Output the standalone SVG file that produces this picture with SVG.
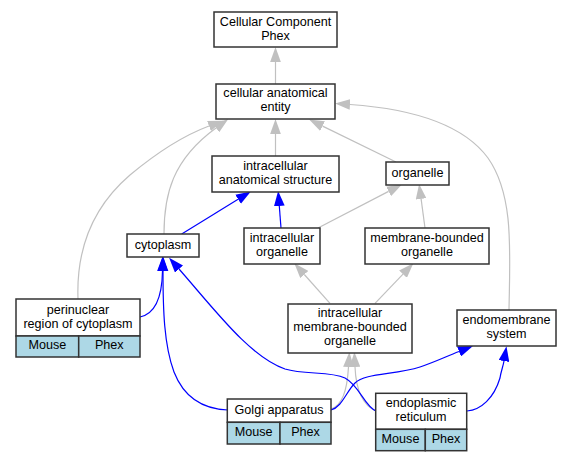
<svg xmlns="http://www.w3.org/2000/svg" width="572" height="461" viewBox="0 0 572 461">
<style>
.box{fill:#fff;stroke:#333;stroke-width:1.5}
.cell{fill:#add8e6;stroke:#333;stroke-width:1.5}
.t{font-family:"Liberation Sans",Arial,sans-serif;font-size:12.6px;fill:#000;text-anchor:middle}
.g{fill:none;stroke:#c0c0c0;stroke-width:1.2}
.b{fill:none;stroke:#0000ff;stroke-width:1.2}
.g{marker-end:url(#ag)}
.b{marker-end:url(#ab)}
</style>
<defs>
<marker id="ag" markerUnits="userSpaceOnUse" markerWidth="15" markerHeight="11" refX="0" refY="5" orient="auto" viewBox="0 0 14 10">
<path d="M0,0 L14,5 L0,10 z" fill="#c0c0c0"/>
</marker>
<marker id="ab" markerUnits="userSpaceOnUse" markerWidth="15" markerHeight="11" refX="0" refY="5" orient="auto" viewBox="0 0 14 10">
<path d="M0,0 L14,5 L0,10 z" fill="#0000ff"/>
</marker>
</defs>
<g id="edges">
<path class="g" d="M275.5,84 L275.5,62"/>
<path class="g" d="M275.5,156 L275.5,134"/>
<path class="g" d="M396,162 L322.6,126.1"/>
<path class="g" d="M164,234 C164,195 172,160 216,128"/>
<path class="g" d="M78,299 C76,245 95,205 130,175 C160,150 185,135 209,126"/>
<path class="g" d="M509,310 C510,250 514,195 488,158 C460,120 400,108 350,104.5"/>
<path class="g" d="M425,228 L421.1,198.9"/>
<path class="g" d="M318,228 L388.6,191.4"/>
<path class="g" d="M330,303.3 L304.3,274.5"/>
<path class="g" d="M375,303.3 L403,274.1"/>
<path class="g" d="M331,409 C342,405 347,392 348.5,367"/>
<path class="g" d="M376,411 C362,405 356,390 355,367"/>
<path class="b" d="M281,228 L279.3,206"/>
<path class="b" d="M181.7,234 L238.1,199.3"/>
<path class="b" d="M140,317 C154,314 162,300 162.5,271"/>
<path class="b" d="M228,410 C200,409 183,395 174,372 C164,345 163,310 163,271"/>
<path class="b" d="M376,411 C364,406 360,386 345,378 C330,371 305,375 285,369 C250,357 215,310 179,269"/>
<path class="b" d="M331,410 C342,407 346,392 355,383 C365,373 395,375 420,367 C435,362 445,357 459,351.5"/>
<path class="b" d="M467,411 C481,410 494,398 500,378 C501,371 503,367 504,361"/>
</g>
<g id="ccp">
<rect class="box" x="214" y="12" width="123" height="35"/>
<text class="t" x="275.5" y="25.5">Cellular Component</text>
<text class="t" x="275.5" y="39.5">Phex</text>
</g>
<g id="cae">
<rect class="box" x="216" y="84" width="119" height="35"/>
<text class="t" x="275.5" y="97">cellular anatomical</text>
<text class="t" x="275.5" y="111">entity</text>
</g>
<g id="ias">
<rect class="box" x="212" y="156" width="127" height="36"/>
<text class="t" x="275.5" y="169.5">intracellular</text>
<text class="t" x="275.5" y="183.5">anatomical structure</text>
</g>
<g id="organelle">
<rect class="box" x="386" y="162" width="63" height="23"/>
<text class="t" x="417.5" y="177">organelle</text>
</g>
<g id="cytoplasm">
<rect class="box" x="127" y="234" width="72" height="23"/>
<text class="t" x="163" y="249">cytoplasm</text>
</g>
<g id="io">
<rect class="box" x="244" y="228" width="76" height="36"/>
<text class="t" x="282" y="241.5">intracellular</text>
<text class="t" x="282" y="255.5">organelle</text>
</g>
<g id="mbo">
<rect class="box" x="365" y="228" width="124" height="36"/>
<text class="t" x="427" y="241.5">membrane-bounded</text>
<text class="t" x="427" y="255.5">organelle</text>
</g>
<g id="perinuclear">
<rect class="box" x="16" y="299" width="124" height="37"/>
<rect class="cell" x="16" y="336" width="62.7" height="21"/>
<rect class="cell" x="78.7" y="336" width="61.3" height="21"/>
<text class="t" x="78" y="313.5">perinuclear</text>
<text class="t" x="78" y="327.5">region of cytoplasm</text>
<text class="t" x="47.3" y="349">Mouse</text>
<text class="t" x="109.3" y="349">Phex</text>
</g>
<g id="imbo">
<rect class="box" x="288" y="304" width="124" height="49"/>
<text class="t" x="350" y="317">intracellular</text>
<text class="t" x="350" y="331">membrane-bounded</text>
<text class="t" x="350" y="345">organelle</text>
</g>
<g id="endomembrane">
<rect class="box" x="457" y="310" width="99" height="36"/>
<text class="t" x="506.5" y="323.5">endomembrane</text>
<text class="t" x="506.5" y="337.5">system</text>
</g>
<g id="golgi">
<rect class="box" x="227.3" y="399" width="103.7" height="23.3"/>
<rect class="cell" x="227.3" y="422.3" width="52.7" height="21.7"/>
<rect class="cell" x="280" y="422.3" width="51" height="21.7"/>
<text class="t" x="279" y="414.3">Golgi apparatus</text>
<text class="t" x="253.7" y="436">Mouse</text>
<text class="t" x="305.5" y="436">Phex</text>
</g>
<g id="er">
<rect class="box" x="375.7" y="393.3" width="91" height="36"/>
<rect class="cell" x="375.7" y="429.3" width="49.6" height="21.4"/>
<rect class="cell" x="425.3" y="429.3" width="41.4" height="21.4"/>
<text class="t" x="421" y="406.5">endoplasmic</text>
<text class="t" x="421" y="420.5">reticulum</text>
<text class="t" x="400.5" y="443">Mouse</text>
<text class="t" x="446" y="443">Phex</text>
</g>
</svg>
